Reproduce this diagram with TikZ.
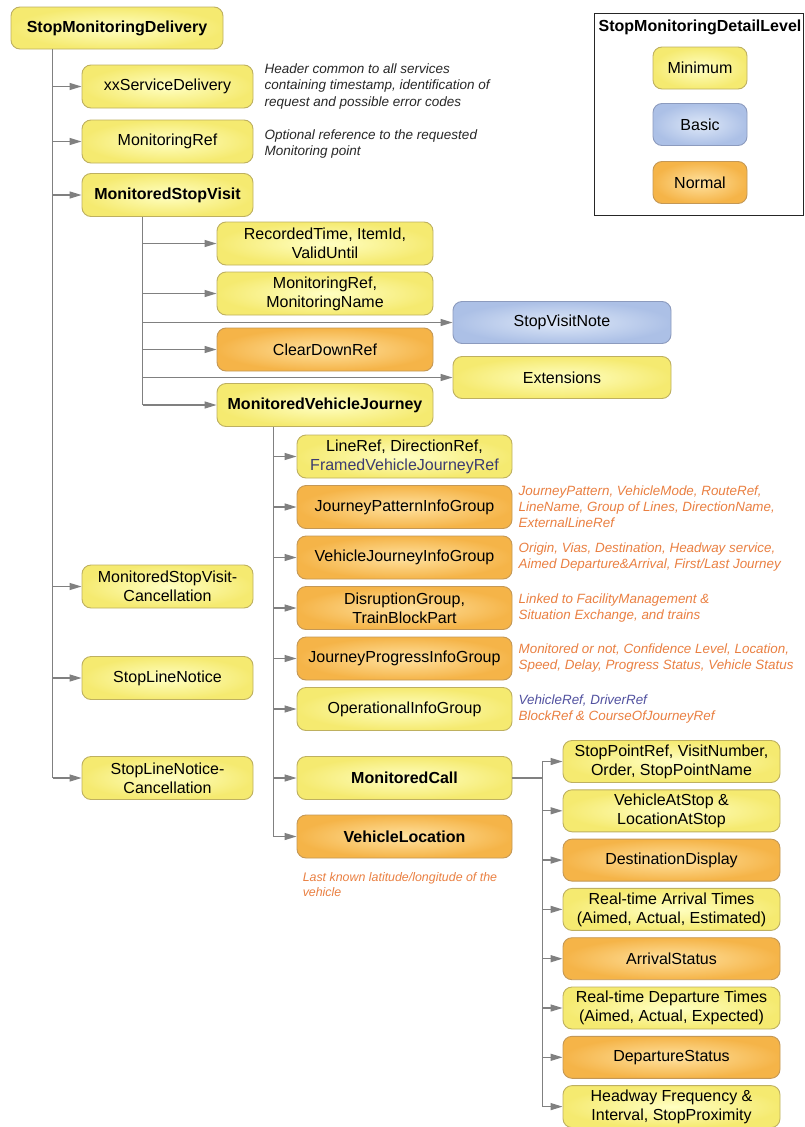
\documentclass[tikz,border=0pt]{standalone}
\usepackage{fontspec}
\setmainfont{Liberation Sans}
\usepackage{tikz}
\usetikzlibrary{arrows.meta}
\tikzset{>={Triangle[length=12pt,width=7pt]}}
\usepackage{color}

\definecolor{linkgray}{RGB}{128,128,128}
\definecolor{ylwin}{RGB}{255,255,195}
\definecolor{ylwout}{RGB}{245,234,112}
\definecolor{ylwline}{RGB}{190,176,96}
\definecolor{orgin}{RGB}{255,226,160}
\definecolor{orgout}{RGB}{245,180,72}
\definecolor{orgline}{RGB}{196,152,86}
\definecolor{bluin}{RGB}{222,232,248}
\definecolor{bluout}{RGB}{172,192,230}
\definecolor{bluline}{RGB}{140,155,190}
\definecolor{remarktext}{RGB}{40,40,40}
\definecolor{orgtext}{RGB}{234,128,66}
\definecolor{blutext}{RGB}{82,82,160}
\definecolor{refblue}{RGB}{60,60,112}

\begin{document}
\begin{tikzpicture}[x=1pt, y=-1pt,
  basebox/.style = {rounded corners=9pt, line width=0.9pt, align=center, inner sep=2pt,
    font=\fontsize{16}{19}\selectfont, minimum height=43pt},
  ylwbox/.style = {basebox, draw=ylwline, inner color=ylwin, outer color=ylwout},
  orgbox/.style = {basebox, draw=orgline, inner color=orgin, outer color=orgout},
  blubox/.style = {basebox, draw=bluline, inner color=bluin, outer color=bluout},
  boldtxt/.style = {font=\fontsize{16}{19}\selectfont\bfseries},
  w1/.style = {minimum width=171pt},
  w2/.style = {minimum width=216pt},
  w3/.style = {minimum width=215pt},
  w4/.style = {minimum width=217pt, minimum height=42pt},
  wl/.style = {minimum width=94pt, minimum height=42pt},
  remark/.style = {align=left, inner sep=0pt, text=remarktext,
    font=\fontsize{13.5}{16.5}\selectfont\itshape},
  oremark/.style = {remark, text=orgtext, font=\fontsize{13.4}{16}\selectfont\itshape},
  stem/.style = {draw=linkgray, line width=1.3pt},
  link/.style = {stem, ->}]

\fill[white] (0,0) rectangle (804,1127);
\useasboundingbox (0,0) rectangle (804,1127);

% legend
\node[draw=black!85, line width=0.9pt, minimum width=209pt, minimum height=202pt, inner sep=0pt] (lvl) at (698.5,114) {};
\node[boldtxt, inner sep=0pt] (lvltitle) at (700,27) {StopMonitoringDetailLevel};
\node[ylwbox, wl] (lmin) at (700,68) {Minimum};
\node[blubox, wl] (lbas) at (700,124.5) {Basic};
\node[orgbox, wl] (lnor) at (700,182.5) {Normal};

% delivery
\node[ylwbox, boldtxt, minimum width=212pt, minimum height=42pt] (smd) at (117,28) {StopMonitoringDelivery};
\node[ylwbox, w1] (xsd) at (167.5,86.5) {xxServiceDelivery};
\node[ylwbox, w1] (mref) at (167.5,141.5) {MonitoringRef};
\node[ylwbox, w1, boldtxt] (msv) at (167.5,195) {MonitoredStopVisit};
\node[ylwbox, w1] (msvc) at (167.5,586.5) {MonitoredStopVisit-\\Cancellation};
\node[ylwbox, w1] (sln) at (167.5,678) {StopLineNotice};
\node[ylwbox, w1] (slnc) at (167.5,778) {StopLineNotice-\\Cancellation};
\node[remark, anchor=west] (xsdnote) at ([xshift=11pt]xsd.east) {Header common to all services\\containing timestamp, identification of\\request and possible error codes};
\node[remark, anchor=west] (mrefnote) at ([xshift=11pt,yshift=-2.5pt]mref.east) {Optional reference to the requested\\Monitoring point};

% stop visit
\node[ylwbox, w2] (rt) at (325,243.5) {RecordedTime, ItemId,\\ValidUntil};
\node[ylwbox, w2] (mrmn) at (325,293.5) {MonitoringRef,\\MonitoringName};
\node[orgbox, w2] (cdr) at (325,349.5) {ClearDownRef};
\node[ylwbox, w2, boldtxt] (mvj) at (325,405) {MonitoredVehicleJourney};
\node[blubox, minimum width=218pt, minimum height=42pt] (svn) at (562,322.5) {StopVisitNote};
\node[ylwbox, minimum width=218pt, minimum height=42pt] (ext) at (562,377.5) {Extensions};

% vehicle journey
\begin{scope}[node distance=50.5pt]
\node[ylwbox, w3] (lref) at (404.5,456.5) {LineRef, DirectionRef,\\{\color{refblue}FramedVehicleJourneyRef}};
\node[orgbox, w3] (jpig) [below of=lref] {JourneyPatternInfoGroup};
\node[orgbox, w3] (vjig) [below of=jpig] {VehicleJourneyInfoGroup};
\node[orgbox, w3] (dgrp) [below of=vjig] {DisruptionGroup,\\TrainBlockPart};
\node[orgbox, w3] (jprig) [below of=dgrp] {JourneyProgressInfoGroup};
\node[ylwbox, w3] (oig) [below of=jprig] {OperationalInfoGroup};
\end{scope}
\node[ylwbox, w3, boldtxt] (mc) at (404.5,778) {MonitoredCall};
\node[orgbox, w3, boldtxt] (vl) at (404.5,836.5) {VehicleLocation};
\node[oremark, anchor=west] (jpignote) at ([xshift=6pt]jpig.east) {JourneyPattern, VehicleMode, RouteRef,\\LineName, Group of Lines, DirectionName,\\ExternalLineRef};
\node[oremark, anchor=west] (vjignote) at ([xshift=6pt]vjig.east) {Origin, Vias, Destination, Headway service,\\Aimed Departure\&Arrival, First/Last Journey};
\node[oremark, anchor=west] (dgrpnote) at ([xshift=6pt]dgrp.east) {Linked to FacilityManagement \&\\Situation Exchange, and trains};
\node[oremark, anchor=west] (jprignote) at ([xshift=6pt]jprig.east) {Monitored or not, Confidence Level, Location,\\Speed, Delay, Progress Status, Vehicle Status};
\node[oremark, anchor=west] (oignote) at ([xshift=6pt]oig.east) {{\color{blutext}VehicleRef, DriverRef}\\BlockRef \& CourseOfJourneyRef};
\node[oremark, anchor=north west, font=\fontsize{12.4}{15}\selectfont\itshape] (vlnote) at ([xshift=6pt,yshift=-14pt]vl.south west) {Last known latitude/longitude of the\\vehicle};

% monitored call
\begin{scope}[node distance=49.3pt]
\node[ylwbox, w4] (spr) at (671.5,761.5) {StopPointRef, VisitNumber,\\Order, StopPointName};
\node[ylwbox, w4] (vas) [below of=spr] {VehicleAtStop \&\\LocationAtStop};
\node[orgbox, w4] (dd) [below of=vas] {DestinationDisplay};
\node[ylwbox, w4] (rat) [below of=dd] {Real-time Arrival Times\\(Aimed, Actual, Estimated)};
\node[orgbox, w4] (arrs) [below of=rat] {ArrivalStatus};
\node[ylwbox, w4] (rdt) [below of=arrs] {Real-time Departure Times\\(Aimed, Actual, Expected)};
\node[orgbox, w4] (deps) [below of=rdt] {DepartureStatus};
\node[ylwbox, w4] (hfi) [below of=deps] {Headway Frequency \&\\Interval, StopProximity};
\end{scope}

% connectors
\coordinate (t1) at ([xshift=42pt]smd.south west);
\coordinate (t2) at ([xshift=61pt]msv.south west);
\coordinate (t3) at ([xshift=57pt]mvj.south west);
\coordinate (t4) at ([xshift=30pt]mc.east);
\draw[stem] (t1) -- (t1 |- slnc);
\foreach \n in {xsd,mref,msv,msvc,sln,slnc}
  \draw[link] (t1 |- \n) -- (\n);
\draw[stem] (t2) -- (t2 |- mvj);
\foreach \n in {rt,mrmn,svn,cdr,ext,mvj}
  \draw[link] (t2 |- \n) -- (\n);
\draw[stem] (t3) -- (t3 |- vl);
\foreach \n in {lref,jpig,vjig,dgrp,jprig,oig,mc,vl}
  \draw[link] (t3 |- \n) -- (\n);
\draw[stem] (mc) -- (t4);
\draw[stem] (t4 |- spr) -- (t4 |- hfi);
\foreach \n in {spr,vas,dd,rat,arrs,rdt,deps,hfi}
  \draw[link] (t4 |- \n) -- (\n);
\end{tikzpicture}
\end{document}
